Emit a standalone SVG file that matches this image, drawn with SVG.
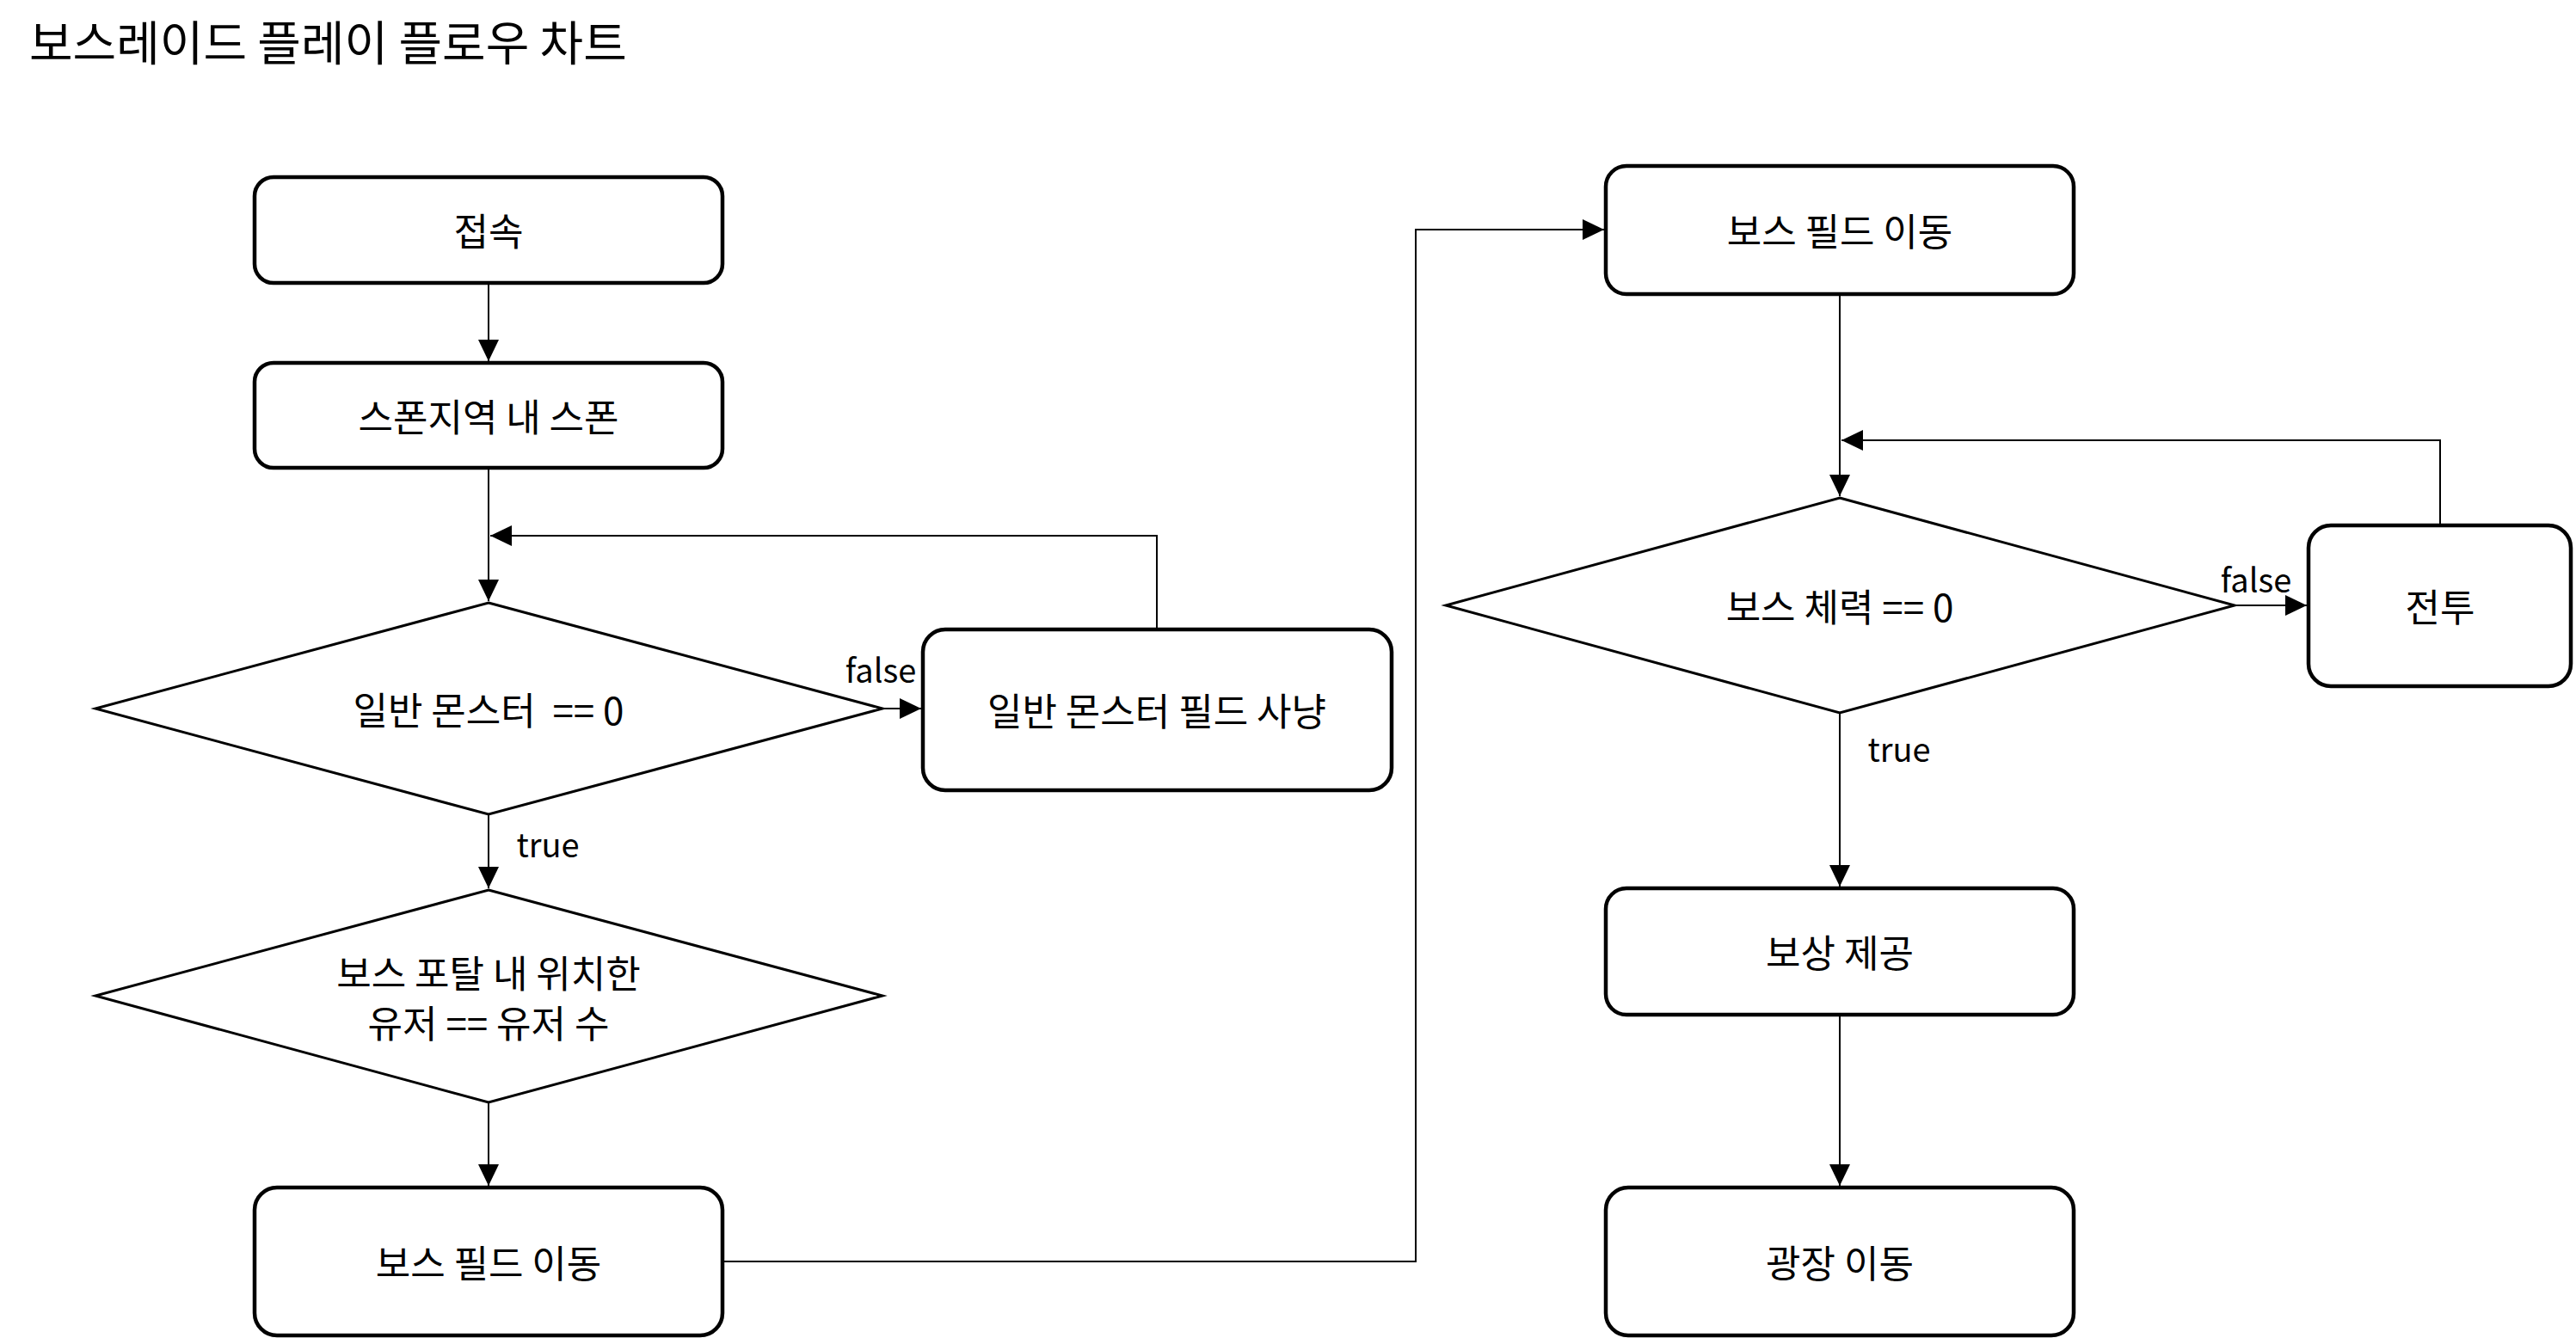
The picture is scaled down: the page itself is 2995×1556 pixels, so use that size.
<svg xmlns="http://www.w3.org/2000/svg" width="2995" height="1556" viewBox="0 0 2995 1556">
<style>
text{font-family:"Noto Sans CJK KR","Noto Sans",sans-serif;fill:#000;}
.lbl{font-size:44px;text-anchor:middle;dominant-baseline:central;}
.edge{font-size:38px;text-anchor:middle;dominant-baseline:central;}
.title{font-size:55px;dominant-baseline:central;}
.box{fill:#fff;stroke:#000;stroke-width:4.5;}
.dia{fill:#fff;stroke:#000;stroke-width:3;}
.con{fill:none;stroke:#000;stroke-width:2;}
.arr{marker-end:url(#ah);}
</style>
<defs>
<marker id="ah" markerUnits="userSpaceOnUse" markerWidth="26" markerHeight="24" refX="25" refY="12" orient="auto">
<path d="M0,0 L25,12 L0,24 Z" fill="#000"/>
</marker>
</defs>
<rect width="2995" height="1556" fill="#fff"/>
<text class="title" x="34" y="46">보스레이드 플레이 플로우 차트</text>
<g id="connectors">
<path class="con arr" d="M568,329 L568,420"/>
<path class="con arr" d="M568,544 L568,699"/>
<path class="con arr" d="M1345,732 L1345,623 L570,623"/>
<path class="con arr" d="M1026,824 L1071,824"/>
<path class="con arr" d="M568,947 L568,1033"/>
<path class="con arr" d="M568,1282 L568,1379"/>
<path class="con arr" d="M840,1467 L1646,1467 L1646,267 L1865,267"/>
<path class="con arr" d="M2139,342 L2139,577"/>
<path class="con arr" d="M2837,611 L2837,512 L2141,512"/>
<path class="con arr" d="M2598,704 L2682,704"/>
<path class="con arr" d="M2139,829 L2139,1031"/>
<path class="con arr" d="M2139,1180 L2139,1379"/>
<text class="edge" x="1024" y="777">false</text>
<text class="edge" x="637" y="980">true</text>
<text class="edge" x="2623" y="672">false</text>
<text class="edge" x="2208" y="869">true</text>
</g>
<g id="n1"><rect class="box" x="296" y="206" width="544" height="123" rx="22"/><text class="lbl" x="568" y="267">접속</text></g>
<g id="n2"><rect class="box" x="296" y="422" width="544" height="122" rx="22"/><text class="lbl" x="568" y="483">스폰지역 내 스폰</text></g>
<g id="d1"><polygon class="dia" points="568,701 1026,824 568,947 111,824"/><text class="lbl" x="568" y="824" xml:space="preserve">일반 몬스터  == 0</text></g>
<g id="n3"><rect class="box" x="1073" y="732" width="545" height="187" rx="26"/><text class="lbl" x="1345" y="825">일반 몬스터 필드 사냥</text></g>
<g id="d2"><polygon class="dia" points="568,1035 1026,1158 568,1282 111,1158"/><text class="lbl" x="568" y="1130">보스 포탈 내 위치한</text><text class="lbl" x="568" y="1188">유저 == 유저 수</text></g>
<g id="n4"><rect class="box" x="296" y="1381" width="544" height="172" rx="26"/><text class="lbl" x="568" y="1467">보스 필드 이동</text></g>
<g id="n5"><rect class="box" x="1867" y="193" width="544" height="149" rx="24"/><text class="lbl" x="2139" y="267">보스 필드 이동</text></g>
<g id="d3"><polygon class="dia" points="2139,579 2598,704 2139,829 1681,704"/><text class="lbl" x="2139" y="704">보스 체력 == 0</text></g>
<g id="n6"><rect class="box" x="2684" y="611" width="305" height="187" rx="26"/><text class="lbl" x="2837" y="704">전투</text></g>
<g id="n7"><rect class="box" x="1867" y="1033" width="544" height="147" rx="24"/><text class="lbl" x="2139" y="1106">보상 제공</text></g>
<g id="n8"><rect class="box" x="1867" y="1381" width="544" height="172" rx="26"/><text class="lbl" x="2139" y="1467">광장 이동</text></g>
</svg>
